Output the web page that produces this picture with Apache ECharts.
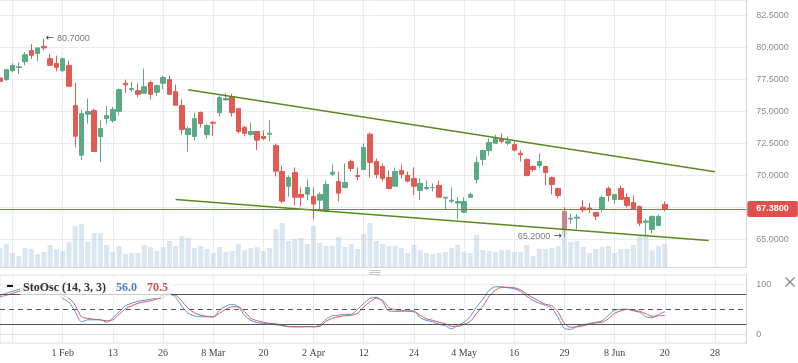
<!DOCTYPE html>
<html>
<head>
<meta charset="utf-8">
<script src="https://cdn.jsdelivr.net/npm/echarts@6/dist/echarts.min.js"></script>
<style>html,body{margin:0;padding:0;background:#fff;}#chart{width:798px;height:363px;}</style>
</head>
<body>
<div id="chart"></div>
<script>
// Trading days (2018) followed by future calendar days
const categories = [
'2018-01-18','2018-01-19','2018-01-22','2018-01-23','2018-01-24','2018-01-25','2018-01-26','2018-01-29','2018-01-30','2018-01-31',
'2018-02-01','2018-02-02','2018-02-05','2018-02-06','2018-02-07','2018-02-08','2018-02-09','2018-02-12','2018-02-13','2018-02-14',
'2018-02-15','2018-02-16','2018-02-20','2018-02-21','2018-02-22','2018-02-23','2018-02-26','2018-02-27','2018-02-28',
'2018-03-01','2018-03-02','2018-03-05','2018-03-06','2018-03-07','2018-03-08','2018-03-09','2018-03-12','2018-03-13','2018-03-14',
'2018-03-15','2018-03-16','2018-03-19','2018-03-20','2018-03-21','2018-03-22','2018-03-23','2018-03-26','2018-03-27','2018-03-28','2018-03-29',
'2018-04-02','2018-04-03','2018-04-04','2018-04-05','2018-04-06','2018-04-09','2018-04-10','2018-04-11','2018-04-12','2018-04-13',
'2018-04-16','2018-04-17','2018-04-18','2018-04-19','2018-04-20','2018-04-23','2018-04-24','2018-04-25','2018-04-26','2018-04-27','2018-04-30',
'2018-05-01','2018-05-02','2018-05-03','2018-05-04','2018-05-07','2018-05-08','2018-05-09','2018-05-10','2018-05-11','2018-05-14',
'2018-05-15','2018-05-16','2018-05-17','2018-05-18','2018-05-21','2018-05-22','2018-05-23','2018-05-24','2018-05-25','2018-05-29',
'2018-05-30','2018-05-31','2018-06-01','2018-06-04','2018-06-05','2018-06-06','2018-06-07','2018-06-08','2018-06-11','2018-06-12',
'2018-06-13','2018-06-14','2018-06-15','2018-06-18','2018-06-19','2018-06-20',
'2018-06-21','2018-06-22','2018-06-23','2018-06-24','2018-06-25','2018-06-26','2018-06-27','2018-06-28','2018-06-29','2018-06-30',
'2018-07-01','2018-07-02','2018-07-03'
];
const monthNames = ['Jan','Feb','Mar','Apr','May','Jun','Jul','Aug','Sep','Oct','Nov','Dec'];

// [open, close, low, high]
const candles = [
[77.63,77.37,77.30,77.70],[77.50,78.28,77.42,78.36],[78.20,78.60,78.07,78.80],[78.45,78.50,77.95,78.85],[78.90,79.45,78.62,79.66],
[79.77,79.40,79.12,80.29],[79.55,79.98,78.93,80.00],[80.10,79.98,79.79,80.70],[79.14,78.62,78.62,79.53],[78.77,78.46,78.15,79.38],
[78.20,79.14,78.12,79.22],[78.60,76.98,76.90,78.98],[75.47,73.07,72.21,77.24],[71.59,74.84,71.20,75.16],[74.79,75.00,74.06,76.02],
[75.08,71.88,71.82,75.23],[73.05,73.67,71.04,74.30],[74.45,74.69,74.00,75.45],[74.30,75.16,74.14,75.37],[75.02,76.72,74.71,76.80],
[77.21,77.09,76.46,77.50],[76.72,76.80,76.54,77.34],[76.64,76.35,76.12,77.19],[76.43,76.95,76.43,78.36],[77.27,76.35,75.96,77.42],
[76.51,77.03,76.20,77.11],[77.21,77.66,76.74,77.81],[77.50,76.35,76.35,77.81],[76.56,75.49,75.49,77.11],[75.47,73.59,73.20,75.94],
[73.20,73.67,71.88,73.83],[73.05,74.45,72.73,74.92],[74.92,74.06,73.75,75.00],[73.20,73.91,72.89,74.06],[74.16,74.09,73.12,74.27],
[74.92,76.09,74.63,76.25],[75.91,76.02,75.86,76.48],[76.17,74.92,74.61,76.41],[75.23,73.44,73.28,75.23],[73.77,73.30,73.07,73.85],
[73.20,73.44,73.12,74.14],[73.44,72.76,71.98,73.44],[73.05,72.89,72.76,73.52],[73.23,73.30,72.68,74.30],[72.34,70.34,69.92,72.50],
[70.31,67.99,67.84,70.78],[69.16,69.84,68.36,70.00],[70.23,68.30,67.68,70.63],[68.52,68.30,67.58,69.06],[68.54,69.06,68.07,69.69],
[68.36,67.76,66.59,69.06],[68.07,68.52,67.37,68.67],[67.21,69.30,67.13,69.61],[70.10,70.26,69.94,70.86],[69.53,68.62,67.99,70.31],
[69.06,69.45,68.98,70.94],[71.09,70.55,70.31,71.25],[70.00,69.92,69.61,70.63],[70.47,72.19,70.47,72.50],[73.23,71.02,69.84,73.36],
[71.09,70.08,69.77,71.33],[70.70,69.77,69.53,70.94],[69.84,68.98,68.91,70.39],[69.16,70.31,69.16,70.63],[70.39,70.10,69.77,70.86],
[70.00,69.56,69.45,70.31],[69.77,69.16,68.46,70.63],[68.83,69.38,68.07,69.77],[68.98,69.06,68.85,69.61],[69.06,69.06,68.75,69.38],
[69.22,68.30,68.30,69.61],[68.23,68.30,67.37,68.30],[67.99,68.07,67.84,69.06],[67.84,67.97,66.59,68.30],[67.13,67.97,67.05,68.30],
[68.30,68.52,68.23,68.67],[69.69,71.02,69.38,71.48],[71.25,71.95,70.78,72.03],[71.95,72.58,71.56,72.89],[72.52,72.89,72.52,73.20],
[72.84,72.68,72.52,73.30],[72.52,72.68,72.37,73.05],[72.42,71.98,71.88,72.68],[71.74,71.62,71.09,71.98],[71.25,70.00,69.92,71.33],
[70.70,70.47,70.31,70.78],[70.78,71.09,70.55,71.74],[70.70,70.23,69.22,70.78],[69.84,69.30,68.52,69.92],[68.98,68.44,68.20,69.06],
[67.19,65.80,65.20,67.52],[66.59,66.66,66.20,66.98],[66.66,66.74,65.80,66.98],[67.52,67.29,67.13,68.07],[67.45,67.37,67.05,67.84],
[67.11,66.82,66.51,67.11],[67.34,68.28,67.11,68.44],[68.98,68.44,67.97,69.14],[68.13,68.52,67.81,68.52],[68.98,68.13,68.13,69.22],
[68.28,67.66,67.50,68.59],[67.89,67.34,67.27,68.44],[67.58,66.27,66.04,67.66],[66.35,66.43,65.31,66.64],[65.78,66.80,65.47,66.87],
[66.09,66.80,66.02,66.95],[67.73,67.38,67.19,67.97]
];

const volumes = [
19,23,14,11,19,18,13,15,22,18, 16,25,41,43,25,34,34,22,15,21,
13,14,14,22,20,16,20,26,21,31, 29,19,21,18,14,20,15,16,23,17,
19,20,16,19,38,44,26,28,29,23, 41,24,21,21,30,20,23,18,33,44,
26,23,21,21,19,14,22,17,14,13, 14,15,19,22,15,14,32,17,16,15,
17,17,15,15,22,11,18,18,19,21, 56,25,26,20,14,18,20,21,14,18,
18,22,32,33,17,21,23
];

const stoK = [
78,82,86,90,94,96,97,98,94,84, 72,64,45,25,29,29,29,24,33,45,
57,62,66,68,70,73,78,82,74,56, 42,37,35,35,35,48,56,60,55,38,
28,23,22,21,19,17,15,15,15,16, 15,19,30,37,38,40,40,50,62,72,
74,65,47,46,46,47,47,33,28,25, 20,17,11,18,24,36,55,70,88,95,
95,93,91,86,76,68,62,58,52,33, 12,10,16,19,22,24,27,38,48,50,
50,47,44,35,33,40,45
];
const stoD = [
75,78,82,86,90,93,95,96,95,90, 78,72,58,35,32,30,29,27,29,40,
51,57,62,65,67,70,74,79,78,66, 52,43,38,36,35,42,50,55,55,45,
32,27,24,22,21,18,16,15,15,15, 15,16,26,32,35,37,38,42,55,65,
72,68,54,49,48,46,45,38,31,28, 24,21,16,16,20,26,42,56,76,88,
94,94,93,89,80,73,66,60,57,44, 22,14,15,17,20,23,24,31,42,47,
50,48,46,41,36,37,38
];

const trendUpper = [[30, 76.70], [114, 70.29]];
const trendLower = [[28, 68.13], [113, 64.92]];
const lastPrice = 67.38;
const highMark = [7, 80.70];
const lowMark = [90, 65.20];
const stoLevels = [80, 20];
const stoMid = 50;

const GREEN = '#5ca986', RED = '#e15b55', LAST = '#e0514d';
const labelIdx = (i) => i >= 10 && (i - 2) % 8 === 0;
const gridIdx = (i) => (i - 2) % 8 === 0;
function fmtDate(value, index) {
  const p = value.split('-');
  const m = parseInt(p[1], 10) - 1, d = parseInt(p[2], 10);
  const prev = index - 8;
  let showMonth = prev < 10;
  if (!showMonth) {
    const pm = parseInt(categories[prev].split('-')[1], 10) - 1;
    showMonth = pm !== m;
  }
  return showMonth ? d + ' ' + monthNames[m] : String(d);
}

const chart = echarts.init(document.getElementById('chart'), null, {renderer: 'canvas'});
const L = -1, R = 51.7;
const option = {
  animation: false,
  backgroundColor: '#fff',
  title: {
    left: 20, top: 278,
    text: '{a|StoOsc (14, 3, 3)}  {b|56.0}  {c|70.5}',
    backgroundColor: 'rgba(255,255,255,0.7)',
    padding: [1, 3, 1, 3],
    textStyle: {
      rich: {
        a: {fontFamily: 'Liberation Serif', fontSize: 12, color: '#333'},
        b: {fontFamily: 'Liberation Serif', fontSize: 12, color: '#4f80c6'},
        c: {fontFamily: 'Liberation Serif', fontSize: 12, color: '#c9504f'}
      }
    }
  },
  grid: [
    {left: L, right: R, top: 0, bottom: 96},
    {left: L, right: R, top: 200, bottom: 96},
    {left: L, right: R, top: 275, bottom: 20, show: true, borderColor: '#e1e4e8', borderWidth: 1}
  ],
  xAxis: [
    {gridIndex: 0, type: 'category', data: categories, boundaryGap: false,
     axisLine: {show: true, lineStyle: {color: '#d3d7dc'}}, axisTick: {show: false}, axisLabel: {show: false},
     splitLine: {show: true, interval: gridIdx, lineStyle: {color: '#e8ebef', width: 1}}},
    {gridIndex: 1, type: 'category', data: categories, boundaryGap: false, show: false},
    {gridIndex: 2, type: 'category', data: categories, boundaryGap: false,
     axisLine: {show: true, lineStyle: {color: '#dcdfe3'}}, axisTick: {show: false},
     axisLabel: {interval: labelIdx, formatter: fmtDate, fontFamily: 'Liberation Serif', fontSize: 10, color: '#444', margin: 5},
     splitLine: {show: true, interval: gridIdx, lineStyle: {color: '#e8ebef', width: 1}}}
  ],
  yAxis: [
    {gridIndex: 0, type: 'value', position: 'right', min: 62.84, max: 83.73, minInterval: 2.5, maxInterval: 2.5,
     axisLine: {show: true, lineStyle: {color: '#d3d7dc'}}, axisTick: {show: false},
     axisLabel: {showMinLabel: false, showMaxLabel: false,
       formatter: v => Math.abs(v - 67.5) < 1e-6 ? '' : v.toFixed(4), color: '#8c8c8c', fontSize: 9, fontFamily: 'Liberation Sans', margin: 10},
     splitLine: {show: true, lineStyle: {color: '#e8ebef'}}},
    {gridIndex: 1, type: 'value', min: 0, max: 67, show: false},
    {gridIndex: 2, type: 'value', position: 'right', min: -17.4, max: 118.6, minInterval: 100, maxInterval: 100,
     axisLine: {show: true, lineStyle: {color: '#d3d7dc'}}, axisTick: {show: false},
     axisLabel: {showMinLabel: false, showMaxLabel: false, color: '#8c8c8c', fontSize: 9, fontFamily: 'Liberation Sans', margin: 10},
     splitLine: {show: true, lineStyle: {color: '#e8ebef'}}}
  ],
  series: [
    {
      type: 'candlestick', xAxisIndex: 0, yAxisIndex: 0, data: candles, barWidth: 5, z: 2,
      itemStyle: {color: GREEN, color0: RED, borderColor: GREEN, borderColor0: RED, borderColorDoji: '#8a8a8a', borderWidth: 1},
      markLine: {
        symbol: 'none', silent: true, animation: false, z: 5,
        data: [{yAxis: lastPrice, lineStyle: {color: LAST, width: 1, type: 'solid', opacity: 1}}],
        lineStyle: {color: LAST, width: 1, type: 'solid', opacity: 1},
        label: {show: true, position: 'end', distance: 1, formatter: lastPrice.toFixed(4),
          backgroundColor: LAST, color: '#fff', fontFamily: 'Liberation Sans', fontSize: 9, fontWeight: 'bold',
          padding: [4, 9, 3, 9], borderRadius: 2}
      },
      markPoint: {
        symbol: 'circle', symbolSize: 1, silent: true, animation: false,
        itemStyle: {color: 'rgba(0,0,0,0)'},
        data: [
          {coord: [categories[highMark[0]], highMark[1]],
           label: {show: true, position: 'right', distance: 1, formatter: '{a|←} {b|' + highMark[1].toFixed(4) + '}',
             rich: {a: {color: '#444', fontSize: 10, fontFamily: 'DejaVu Sans'}, b: {color: '#7a7a7a', fontSize: 9, fontFamily: 'Liberation Sans'}}}},
          {coord: [categories[lowMark[0]], lowMark[1]],
           label: {show: true, position: 'left', distance: 2, formatter: '{b|' + lowMark[1].toFixed(4) + '} {a|→}',
             rich: {a: {color: '#444', fontSize: 10, fontFamily: 'DejaVu Sans'}, b: {color: '#7a7a7a', fontSize: 9, fontFamily: 'Liberation Sans'}}}}
        ]
      }
    },
    {
      type: 'bar', xAxisIndex: 1, yAxisIndex: 1, data: volumes, barWidth: 5, z: 3, silent: true,
      itemStyle: {color: 'rgba(168,196,222,0.42)'}
    },
    {
      type: 'line', xAxisIndex: 0, yAxisIndex: 0, data: trendUpper, symbol: 'none', z: 4, silent: true,
      lineStyle: {color: '#5a8a1e', width: 1.5}
    },
    {
      type: 'line', xAxisIndex: 0, yAxisIndex: 0, data: trendLower, symbol: 'none', z: 4, silent: true,
      lineStyle: {color: '#5a8a1e', width: 1.5}
    },
    {
      type: 'line', xAxisIndex: 2, yAxisIndex: 2, data: stoK, symbol: 'none', smooth: 0.3, z: 3,
      lineStyle: {color: '#5b8dd6', width: 1}
    },
    {
      type: 'line', xAxisIndex: 2, yAxisIndex: 2, data: stoD, symbol: 'none', smooth: 0.3, z: 3,
      lineStyle: {color: '#d25b5b', width: 1},
      markLine: {
        symbol: 'none', silent: true, animation: false, label: {show: false},
        lineStyle: {color: '#555', width: 1, type: 'solid'},
        data: [
          {yAxis: stoLevels[0]}, {yAxis: stoLevels[1]},
          {yAxis: stoMid, lineStyle: {type: [5, 4], color: '#555', width: 1}}
        ]
      }
    }
  ],
  graphic: [
    {type: 'rect', left: 7, top: 285, shape: {width: 6, height: 2}, style: {fill: '#111'}, z: 100},
    {type: 'group', left: 367, top: 268, children: [
      {type: 'line', shape: {x1: 0, y1: 0.5, x2: 11, y2: 0.5}, style: {stroke: '#c8c8c8', lineWidth: 1}},
      {type: 'line', shape: {x1: 0, y1: 2.5, x2: 11, y2: 2.5}, style: {stroke: '#c8c8c8', lineWidth: 1}},
      {type: 'line', shape: {x1: 0, y1: 4.5, x2: 11, y2: 4.5}, style: {stroke: '#c8c8c8', lineWidth: 1}}
    ]},
    {type: 'group', left: 783, top: 275, children: [
      {type: 'line', shape: {x1: 0, y1: 0, x2: 9, y2: 9}, style: {stroke: '#888', lineWidth: 1.2}},
      {type: 'line', shape: {x1: 9, y1: 0, x2: 0, y2: 9}, style: {stroke: '#888', lineWidth: 1.2}}
    ]}
  ]
};
chart.setOption(option);
</script>
</body>
</html>
